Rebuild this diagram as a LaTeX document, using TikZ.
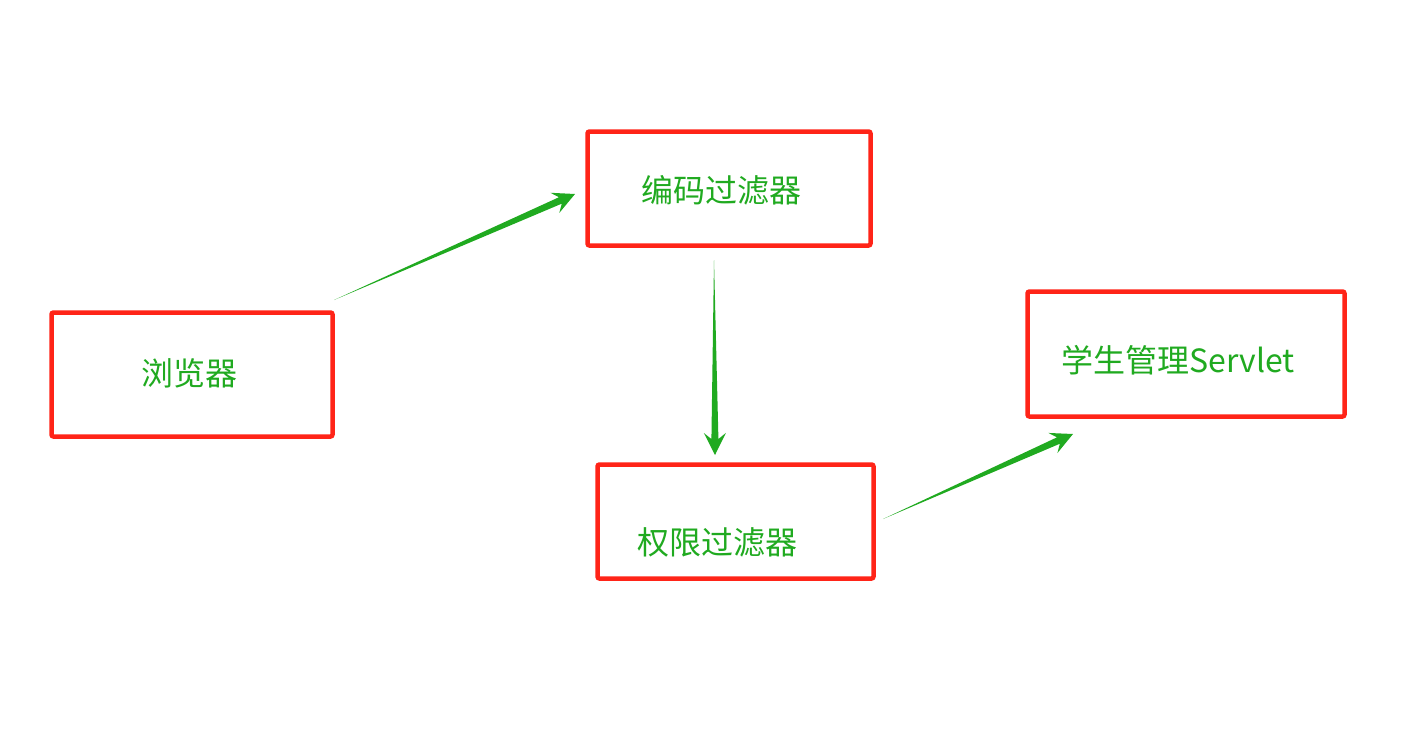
\documentclass[tikz,border=0pt]{standalone}
\usepackage{fontspec}
\newfontfamily\cjk{Noto Sans CJK SC}
\usetikzlibrary{calc}
\definecolor{boxred}{RGB}{255,36,24}
\definecolor{arrgreen}{RGB}{32,170,32}
\tikzset{
  box/.style={draw=boxred,line width=4.5pt,rounded corners=2pt,inner sep=0pt},
  lbl/.style={text=arrgreen,font=\cjk\fontsize{32}{37}\selectfont,inner sep=0pt}
}
\newcommand{\taperarrow}[2]{%
  \fill[arrgreen] (#1) -- ($(#2)!16pt!(#1)!3.5pt!90:(#1)$)
    -- ($(#2)!22pt!(#1)!11pt!90:(#1)$) -- (#2)
    -- ($(#2)!22pt!(#1)!11pt!-90:(#1)$)
    -- ($(#2)!16pt!(#1)!3.5pt!-90:(#1)$) -- cycle;}

\begin{document}
\begin{tikzpicture}[x=1pt,y=-1pt]
  \fill[white] (0,0) rectangle (1413,742);
  \useasboundingbox (0,0) rectangle (1413,742);
  \node (browser) at (192,374.5) [box,minimum width=281pt,minimum height=124pt] {};
  \node (enc) at (729,188.5) [box,minimum width=283pt,minimum height=114pt] {};
  \node (auth) at (735.5,521.5) [box,minimum width=276pt,minimum height=114pt] {};
  \node (servlet) at (1186,354) [box,minimum width=317pt,minimum height=125pt] {};
  \node (browsertxt) at (189,373) [lbl] {浏览器};
  \node (enctxt) at (721,190) [lbl] {编码过滤器};
  \node (authtxt) at (717,542) [lbl] {权限过滤器};
  \node (servlettxt) at (1178,360) [lbl] {学生管理Servlet};
  \coordinate (t1) at (334,300);
  \coordinate (h1) at (575,194);
  \coordinate (t2) at (714,260);
  \coordinate (h2) at (715,455);
  \coordinate (t3) at (883,519);
  \coordinate (h3) at (1073,434);
  \taperarrow{t1}{h1}
  \taperarrow{t2}{h2}
  \taperarrow{t3}{h3}
\end{tikzpicture}
\end{document}
